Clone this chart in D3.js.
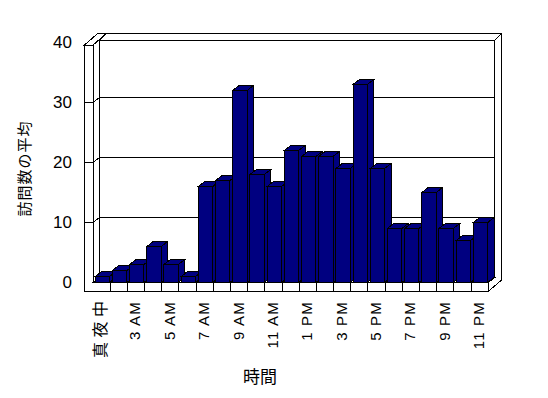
<!DOCTYPE html>
<html>
<head>
<meta charset="utf-8">
<script src="https://cdn.jsdelivr.net/npm/d3@7"></script>
<style>
  body { margin: 0; background: #fff; }
  svg { display: block; font-family: "Liberation Sans", "Noto Sans CJK JP", sans-serif; }
</style>
</head>
<body>
<div id="chart"></div>
<script>
// hours of the day (hour 1 has no data in the source)
const categories = ['真夜中', '2 AM', '3 AM', '4 AM', '5 AM', '6 AM', '7 AM', '8 AM', '9 AM', '10 AM', '11 AM',
  '正午', '1 PM', '2 PM', '3 PM', '4 PM', '5 PM', '6 PM', '7 PM', '8 PM', '9 PM', '10 PM', '11 PM'];
// average visits per hour
const visits = [1, 2, 3, 6, 3, 1, 16, 17, 32, 18, 16, 22, 21, 21, 19, 33, 19, 9, 9, 15, 9, 7, 10];
const yTicks = [0, 10, 20, 30, 40];
const gridValues = [10, 20, 30];
const xTickLabels = categories.filter((d, i) => i % 2 === 0);
const yTitle = '訪問数の平均';
const xTitle = '時間';

const width = 548;
const height = 398;

// front plane of the 3d box
const plot = { left: 93, right: 488.3, outer: 84.5 };
const depth = { dx: 6.5, dy: -5 };   // depth of the bars / inner walls
const wall = { dx: 6.7, dy: -6.5 };  // thickness of the back wall
const floorH = 9;
const barColor = '#000080';

const svg = d3.select('#chart').append('svg')
  .attr('width', width)
  .attr('height', height);

const xScale = d3.scaleBand().domain(categories).range([plot.left, plot.right]);
const yScale = d3.scaleLinear().domain([0, 40]).range([282.5, 42.5]);

const base = yScale(0);
const frameTop = yScale(40) + 2.5;
const poly = pts => 'M' + pts.map(p => p.join(',')).join('L') + 'Z';
const isAscii = s => /^[\x00-\x7f]+$/.test(s);

const frame = svg.append('g')
  .attr('fill', '#fff')
  .attr('stroke', '#000')
  .attr('stroke-width', 1)
  .attr('shape-rendering', 'crispEdges');

const bx0 = plot.left + depth.dx;
const bx1 = plot.right + depth.dx;
const by0 = frameTop + depth.dy;
const by1 = base + depth.dy;
const ex = depth.dx + wall.dx;
const ey = depth.dy + wall.dy;

// back wall front face
frame.append('path').attr('d', poly([[bx0, by0], [bx1, by0], [bx1, by1], [bx0, by1]]));
// back wall top
frame.append('path').attr('d', poly([[bx0, by0], [bx1, by0], [bx1 + wall.dx, by0 + wall.dy], [bx0 + wall.dx, by0 + wall.dy]]));
// back wall right side, down to the floor slab
frame.append('path').attr('d', poly([[bx1, by0], [bx1 + wall.dx, by0 + wall.dy],
  [plot.right + ex, base + floorH + ey], [plot.right, base + floorH], [plot.right, base], [bx1, by1]]));

// gridlines on back wall
frame.selectAll('line.grid')
  .data(gridValues)
  .join('line')
  .attr('class', 'grid')
  .attr('x1', bx0).attr('x2', bx1)
  .attr('y1', d => yScale(d) + depth.dy)
  .attr('y2', d => yScale(d) + depth.dy);

// left wall: front face, inner face, top
frame.append('path').attr('d', poly([[plot.outer, frameTop], [plot.left, frameTop], [plot.left, base + floorH], [plot.outer, base + floorH]]));
frame.append('path').attr('d', poly([[plot.left, frameTop], [bx0, by0], [bx0, by1], [plot.left, base]]));
frame.append('path').attr('d', poly([[plot.outer, frameTop], [plot.left, frameTop], [plot.left + ex, frameTop + ey], [plot.outer + ex, frameTop + ey]]));

// tick marks on the left wall
frame.selectAll('path.ytick')
  .data(gridValues)
  .join('path')
  .attr('class', 'ytick')
  .attr('fill', 'none')
  .attr('d', d => `M${plot.outer},${yScale(d)}H${plot.left}l${depth.dx},${depth.dy}`);

// floor: top and front face with category divisions
frame.append('path').attr('d', poly([[plot.left, base], [bx0, by1], [bx1, by1], [plot.right, base]]));
frame.append('path').attr('d', poly([[plot.left, base], [plot.right, base], [plot.right, base + floorH], [plot.outer, base + floorH], [plot.outer, base]]))
  .attr('stroke', 'none');
frame.append('path')
  .attr('fill', 'none')
  .attr('d', `M${plot.left},${base}H${plot.right}V${base + floorH}H${plot.outer}`);
frame.selectAll('line.xdiv')
  .data(categories.slice(1))
  .join('line')
  .attr('class', 'xdiv')
  .attr('x1', d => xScale(d)).attr('x2', d => xScale(d))
  .attr('y1', base).attr('y2', base + floorH);
// outer left edge redrawn above the floor fill
frame.append('line')
  .attr('x1', plot.outer).attr('x2', plot.outer)
  .attr('y1', frameTop).attr('y2', base + floorH);

// bars, left to right so each front face covers the previous side face
const bars = svg.append('g')
  .attr('fill', barColor)
  .attr('stroke', '#000')
  .attr('stroke-width', 1)
  .attr('shape-rendering', 'crispEdges');

categories.forEach((c, i) => {
  const xl = xScale(c) + 2.2;
  const xr = xl + xScale.bandwidth() - 2.8;
  const yt = yScale(visits[i]);
  const g = bars.append('g');
  g.append('path').attr('d', poly([[xr, yt], [xr + depth.dx, yt + depth.dy], [xr + depth.dx, base + depth.dy], [xr, base]]));
  g.append('path').attr('d', poly([[xl, yt], [xl + depth.dx, yt + depth.dy], [xr + depth.dx, yt + depth.dy], [xr, yt]]));
  g.append('path').attr('d', poly([[xl, yt], [xr, yt], [xr, base], [xl, base]]));
});

// y axis labels
svg.append('g')
  .attr('transform', `translate(${plot.outer},0)`)
  .call(d3.axisLeft(yScale).tickValues(yTicks).tickSize(0).tickPadding(12.5))
  .call(g => g.select('.domain').remove())
  .call(g => g.selectAll('text')
    .attr('font-family', '"Liberation Sans", sans-serif')
    .attr('font-size', 17)
    .attr('fill', '#000')
    .attr('dy', '0.3em'));

// x axis labels, rotated
svg.append('g')
  .attr('transform', `translate(0,${base + floorH})`)
  .call(d3.axisBottom(xScale).tickValues(xTickLabels).tickSize(0))
  .call(g => g.select('.domain').remove())
  .call(g => g.selectAll('text')
    .attr('font-family', '"Liberation Sans", "Noto Sans CJK JP", sans-serif')
    .attr('font-size', d => (isAscii(d) ? 15 : 16))
    .attr('fill', '#000')
    .attr('letter-spacing', d => (isAscii(d) ? '1.2px' : null))
    .attr('textLength', d => (isAscii(d) ? null : 57))
    .attr('lengthAdjust', 'spacing')
    .attr('text-anchor', 'end')
    .attr('transform', 'rotate(-90)')
    .attr('x', -9.5)
    .attr('y', 0)
    .attr('dy', '0.3em'));

// axis titles
svg.append('text')
  .attr('transform', 'translate(25,169) rotate(-90)')
  .attr('text-anchor', 'middle')
  .attr('dy', '0.35em')
  .attr('font-size', 15)
  .attr('textLength', 95)
  .attr('lengthAdjust', 'spacing')
  .text(yTitle);

svg.append('text')
  .attr('x', 260)
  .attr('y', 383)
  .attr('text-anchor', 'middle')
  .attr('font-size', 17)
  .text(xTitle);
</script>
</body>
</html>
